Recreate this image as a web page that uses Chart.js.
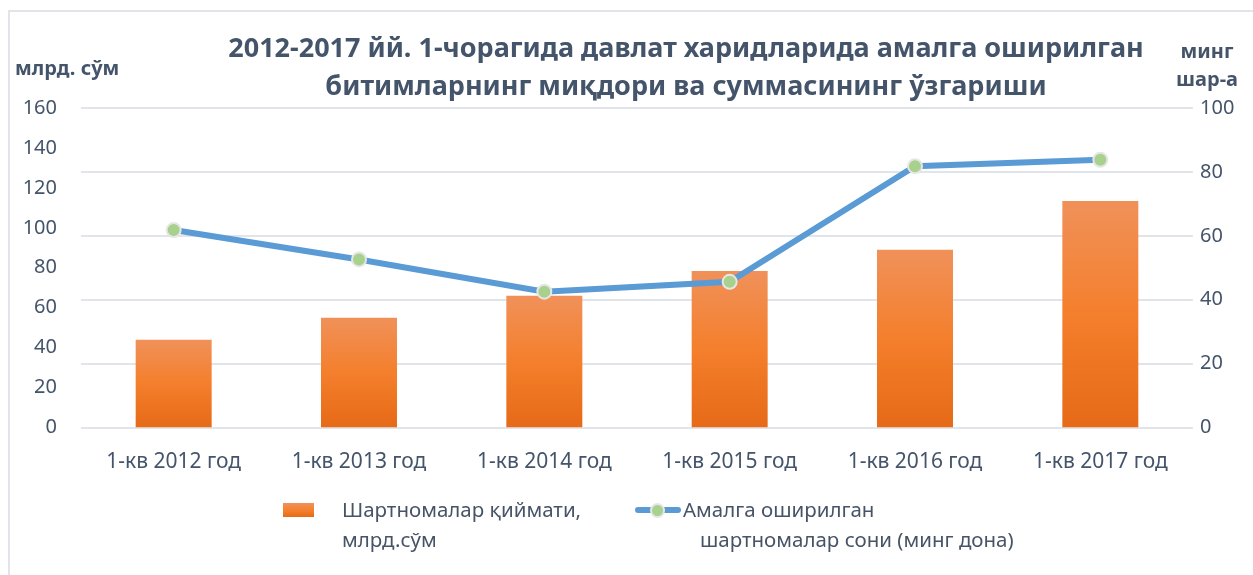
<!DOCTYPE html>
<html>
<head>
<meta charset="utf-8">
<script src="https://cdn.jsdelivr.net/npm/chart.js@4"></script>
<style>
  body { margin: 0; background: #fff; font-family: "Noto Sans", sans-serif; }
  #wrap { position: relative; width: 1253px; height: 575px; overflow: hidden; }
  #frame { position: absolute; left: 8px; top: 10px; width: 1300px; height: 600px; border: 2px solid #e1e5ea; }
  canvas { position: absolute; left: 0; top: 0; }
  .t { position: absolute; color: #44546a; white-space: nowrap; }
  #title { left: 0; width: 1372px; top: 28px; text-align: center; font-weight: bold; font-size: 27px; line-height: 38px; }
  #lt { left: 15px; top: 54px; font-weight: bold; font-size: 20px; }
  #rt { left: 1157px; width: 100px; top: 37px; font-weight: bold; font-size: 20px; line-height: 28px; text-align: center; }
  .lg { position: absolute; color: #475467; font-size: 20.5px; line-height: 30px; white-space: nowrap; }
  #box { position: absolute; left: 283px; top: 503px; width: 31px; height: 14px;
         background: linear-gradient(#f0915a, #f47f2c 55%, #e66a17); }
  #lineSym { position: absolute; left: 635px; top: 507px; width: 46px; height: 6px; background: #5b9bd5; border-radius: 3px; }
  #dot { position: absolute; left: 650px; top: 503px; width: 11px; height: 11px; border-radius: 50%; background: #a9d18e; border: 2px solid #e7e6e6; }
</style>
</head>
<body>
<div id="wrap">
  <div id="frame"></div>
  <canvas id="c" width="1253" height="575"></canvas>
  <div class="t" id="title">2012-2017 йй. 1-чорагида давлат харидларида амалга оширилган<br>битимларнинг миқдори ва суммасининг ўзгариши</div>
  <div class="t" id="lt">млрд. сўм</div>
  <div class="t" id="rt">минг<br>шар-а</div>
  <div id="box"></div>
  <div class="lg" style="left:342px;top:494px;">Шартномалар қиймати,<br>млрд.сўм</div>
  <div id="lineSym"></div><div id="dot"></div>
  <div class="lg" style="left:683px;top:494px;">Амалга оширилган</div>
  <div class="lg" style="left:700px;top:524px;">шартномалар сони (минг дона)</div>
</div>
<script>
// данные
const categories = ["1-кв 2012 год", "1-кв 2013 год", "1-кв 2014 год", "1-кв 2015 год", "1-кв 2016 год", "1-кв 2017 год"];
const contractValue = [44, 55, 66, 78.4, 89, 113.4];     // млрд. сўм
const contractCount = [61.8, 52.6, 42.5, 45.6, 81.8, 83.8]; // минг дона
const leftTicks = [0, 160, 20];
const rightTicks = [0, 100, 20];

const tickColor = "#44546a";
const fontFamily = "'Noto Sans', sans-serif";

function barGradient(ctx) {
  const chart = ctx.chart;
  if (!chart.chartArea || ctx.raw == null) return "#f47f2c";
  const y = chart.scales.y;
  const top = y.getPixelForValue(ctx.raw);
  const bottom = y.getPixelForValue(0);
  const g = chart.ctx.createLinearGradient(0, top, 0, bottom);
  g.addColorStop(0, "#f0915a");
  g.addColorStop(0.5, "#f47f2c");
  g.addColorStop(1, "#e66a17");
  return g;
}

new Chart(document.getElementById("c"), {
  data: {
    labels: categories,
    datasets: [
      {
        type: "line",
        label: "Амалга оширилган шартномалар сони (минг дона)",
        data: contractCount,
        yAxisID: "y1",
        order: 0,
        borderColor: "#5b9bd5",
        borderWidth: 6,
        pointRadius: 7,
        pointBorderWidth: 2,
        pointBackgroundColor: "#a9d18e",
        pointBorderColor: "#e7e6e6",
        tension: 0
      },
      {
        type: "bar",
        label: "Шартномалар қиймати, млрд.сўм",
        data: contractValue,
        yAxisID: "y",
        order: 1,
        backgroundColor: barGradient,
        categoryPercentage: 1,
        barPercentage: 0.41
      }
    ]
  },
  options: {
    responsive: false,
    animation: false,
    layout: { padding: { top: 108, left: 0, right: 0, bottom: 0 } },
    plugins: { legend: { display: false }, tooltip: { enabled: false } },
    scales: {
      x: {
        grid: { display: false },
        border: { display: false },
        ticks: { color: tickColor, padding: 14, font: { family: fontFamily, size: 21 } },
        afterFit: s => { s.height = 147.5; }
      },
      y: {
        position: "left",
        min: leftTicks[0], max: leftTicks[1],
        ticks: { stepSize: leftTicks[2], color: tickColor, padding: 24, font: { family: fontFamily, size: 20 } },
        grid: { display: false, drawTicks: false },
        border: { display: false },
        afterFit: s => { s.width = 81; }
      },
      y1: {
        position: "right",
        min: rightTicks[0], max: rightTicks[1],
        ticks: { stepSize: rightTicks[2], color: tickColor, padding: 7, font: { family: fontFamily, size: 20 } },
        grid: { color: "#e1e5eb", lineWidth: 2, drawTicks: false },
        border: { display: false },
        afterFit: s => { s.width = 60; }
      }
    }
  }
});
</script>
</body>
</html>
